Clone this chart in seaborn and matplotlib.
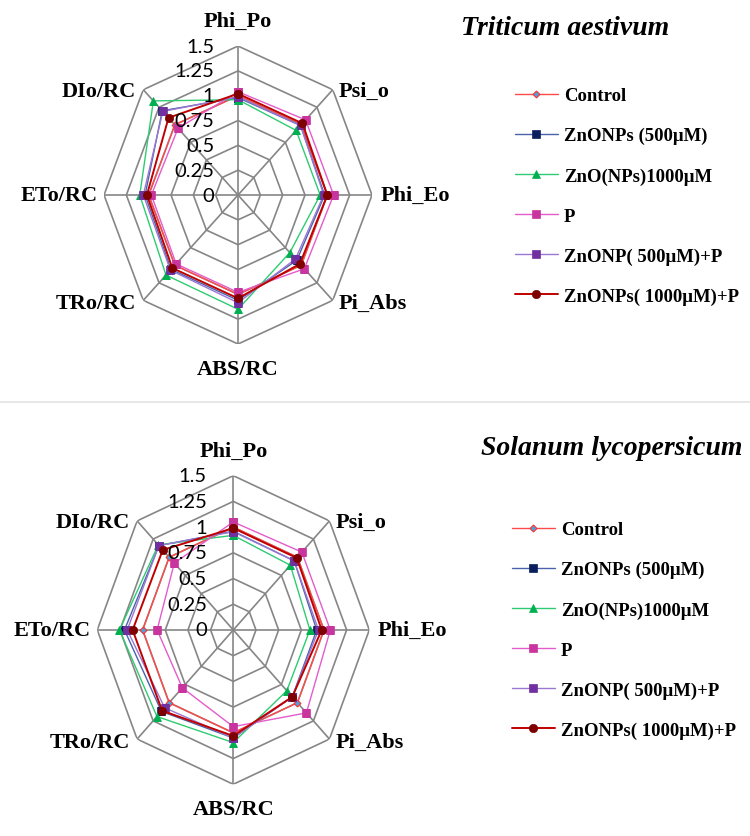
import numpy as np
import pandas as pd
import seaborn as sns
import matplotlib.pyplot as plt
from matplotlib.lines import Line2D

# categories, clockwise from the top
categories = ["Phi_Po", "Psi_o", "Phi_Eo", "Pi_Abs", "ABS/RC", "TRo/RC", "ETo/RC", "DIo/RC"]
ring_values = [0.25, 0.5, 0.75, 1.0, 1.25, 1.5]
ring_labels = ["0", "0.25", "0.5", "0.75", "1", "1.25", "1.5"]

series_names = ["Control", "ZnONPs (500\u03bcM)", "ZnO(NPs)1000\u03bcM", "P",
                "ZnONP( 500\u03bcM)+P", "ZnONPs( 1000\u03bcM)+P"]

# Triticum aestivum
wheat_control = [1.0, 1.0, 1.0, 1.0, 1.0, 1.0, 1.0, 1.0]
wheat_zn500 = [0.98, 0.99, 0.97, 0.93, 1.06, 1.06, 1.04, 1.20]
wheat_zn1000 = [0.96, 0.92, 0.92, 0.82, 1.15, 1.14, 1.10, 1.34]
wheat_p = [1.04, 1.07, 1.07, 1.05, 0.98, 0.98, 0.97, 0.95]
wheat_zn500_p = [0.99, 0.99, 0.96, 0.91, 1.085, 1.07, 1.06, 1.19]
wheat_zn1000_p = [1.02, 1.02, 1.00, 0.98, 1.04, 1.04, 1.02, 1.10]

# Solanum lycopersicum
tomato_control = [1.0, 1.0, 1.0, 1.0, 1.0, 1.0, 1.0, 1.0]
tomato_zn500 = [0.96, 0.95, 0.92, 0.92, 1.05, 1.12, 1.20, 1.16]
tomato_zn1000 = [0.92, 0.89, 0.845, 0.835, 1.095, 1.19, 1.255, 1.17]
tomato_p = [1.05, 1.07, 1.07, 1.14, 0.94, 0.795, 0.84, 0.92]
tomato_zn500_p = [0.955, 0.95, 0.94, 0.92, 1.05, 1.07, 1.17, 1.16]
tomato_zn1000_p = [0.99, 0.99, 0.975, 0.92, 1.03, 1.11, 1.11, 1.10]

styles = [
    dict(color="#FF4A4A", lw=1.0, marker="D", ms=3.5, mfc="#4F9FD8", mec="#FF3030", mew=0.8),
    dict(color="#4A62AE", lw=1.0, marker="s", ms=5.5, mfc="#0B1F5E", mec="#0B1F5E", mew=0.5),
    dict(color="#2FCB72", lw=1.0, marker="^", ms=5.5, mfc="#00B050", mec="#00B050", mew=0.5),
    dict(color="#E45CCB", lw=1.0, marker="s", ms=6.0, mfc="#C8359E", mec="#C8359E", mew=0.5),
    dict(color="#9A78D2", lw=1.0, marker="s", ms=6.0, mfc="#7030A0", mec="#7030A0", mew=0.5),
    dict(color="#C00000", lw=1.4, marker="o", ms=6.0, mfc="#7F0000", mec="#7F0000", mew=0.5),
]

sns.set_style("white")
plt.rcParams["font.family"] = ["Liberation Serif", "DejaVu Serif"]

GRID = "#868686"
angles = np.arange(len(categories)) * 2 * np.pi / len(categories)

# label offsets (points) and alignment around the outer ring
label_pos = [
    ((0, 18), "center", "center"),
    ((4.5, -1), "left", "center"),
    ((6, 0), "left", "center"),
    ((4.5, -2), "left", "center"),
    ((0, -18), "center", "center"),
    ((-5, -2), "right", "center"),
    ((-4.5, 0), "right", "center"),
    ((-5, -1), "right", "center"),
]


def radar(ax, data, title, tick_pad, legend_anchor, title_xy):
    ax.set_theta_zero_location("N")
    ax.set_theta_direction(-1)
    ax.set_aspect("auto")
    ax.grid(False)
    ax.spines["polar"].set_visible(False)
    ax.set_facecolor("none")

    closed = np.append(angles, angles[0])
    for r in ring_values:
        ax.plot(closed, [r] * len(closed), color=GRID, lw=1.2, zorder=1)
    for a in angles:
        ax.plot([a, a], [0, 1.5], color=GRID, lw=1.2, zorder=1)

    for name, vals, st in zip(series_names, data, styles):
        df = pd.DataFrame({"theta": closed, "r": list(vals) + [vals[0]]})
        sns.lineplot(data=df, x="theta", y="r", sort=False, estimator=None, ax=ax,
                     label=name, zorder=3, **st)

    ax.set_rlim(0, 1.5)
    ax.set_xticks([])
    ax.set_yticks([])
    ax.set_xlabel("")
    ax.set_ylabel("")

    for lab, val in zip(ring_labels, [0] + ring_values):
        ax.annotate(lab, xy=(0, val), xytext=(-tick_pad, 0), textcoords="offset points",
                    ha="right", va="center", fontsize=14.5, family="Lato", color="black",
                    zorder=4)

    for cat, a, (off, ha, va) in zip(categories, angles, label_pos):
        ax.annotate(cat, xy=(a, 1.5), xytext=off, textcoords="offset points",
                    ha=ha, va=va, fontsize=16, fontweight="bold", color="black",
                    annotation_clip=False)

    leg = ax.legend(loc="upper left", bbox_to_anchor=legend_anchor,
                    bbox_transform=fig.transFigure, frameon=False, borderpad=0,
                    borderaxespad=0, handlelength=2.3, handletextpad=0.35,
                    labelspacing=1.22, prop=dict(family="Liberation Serif",
                                                 weight="bold", size=13.5))
    for t in leg.get_texts():
        t.set_color("black")

    fig.text(title_xy[0], title_xy[1], title, ha="center", va="baseline",
             fontsize=20, fontweight="bold", fontstyle="italic", color="black")


fig = plt.figure(figsize=(7.5, 8.37), dpi=100)

ax_top = fig.add_axes([0.1387, 0.5878, 0.3573, 0.356], projection="polar")
radar(ax_top,
      [wheat_control, wheat_zn500, wheat_zn1000, wheat_p, wheat_zn500_p, wheat_zn1000_p],
      "Triticum aestivum", 17.0, (0.686, 1 - 88 / 837), (0.753, 1 - 35 / 837))

ax_bot = fig.add_axes([0.1297, 0.0618, 0.3627, 0.3687], projection="polar")
radar(ax_bot,
      [tomato_control, tomato_zn500, tomato_zn1000, tomato_p, tomato_zn500_p, tomato_zn1000_p],
      "Solanum lycopersicum", 19.0, (0.682, 1 - 522 / 837), (0.816, 1 - 455 / 837))

fig.add_artist(Line2D([0, 1], [1 - 403 / 837] * 2, color="#E3E3E3", lw=1.2))

fig.savefig("out.png", dpi=100)
